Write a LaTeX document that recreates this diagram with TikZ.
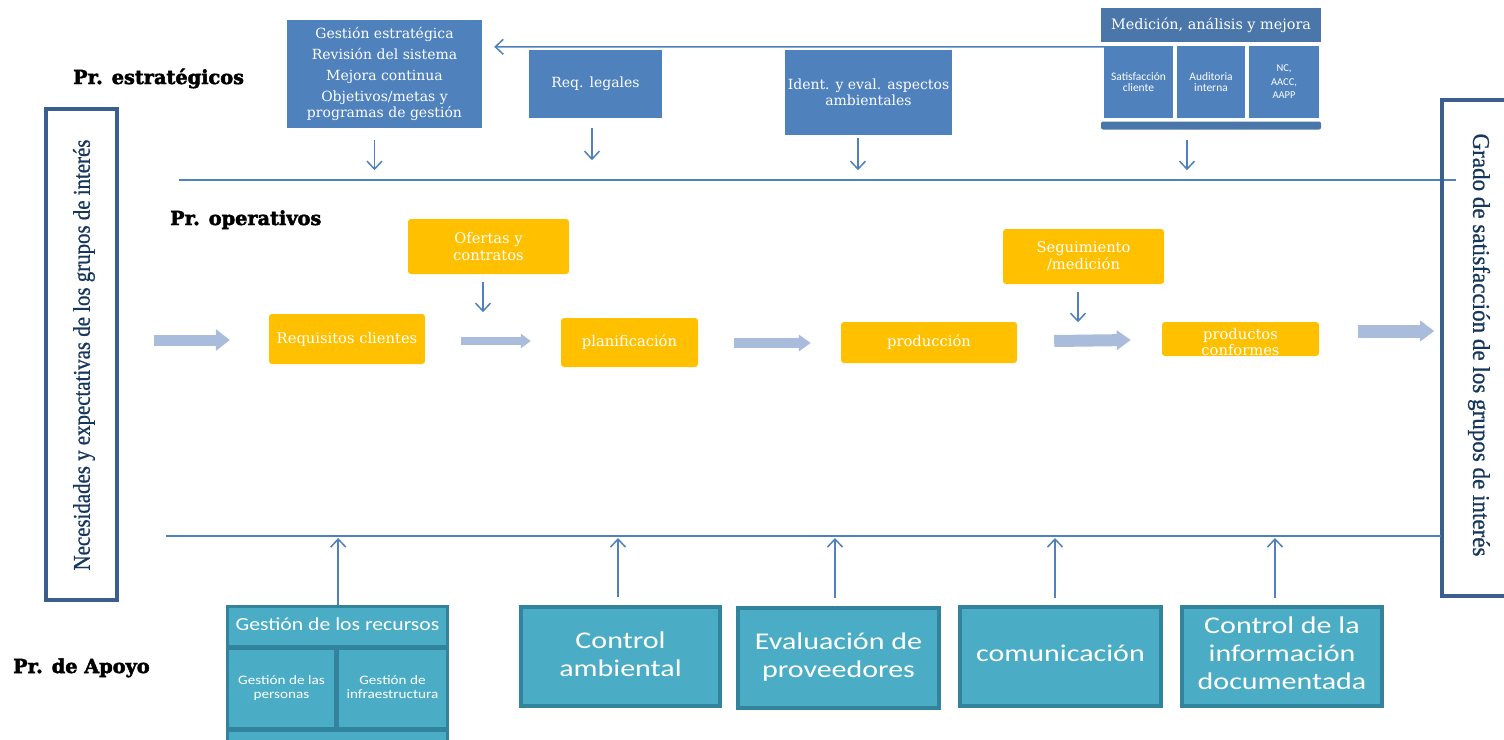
\documentclass[tikz,border=0pt]{standalone}
\usepackage{fontspec}
\usepackage{graphicx}
\usetikzlibrary{arrows.meta,calc}
\newfontfamily\cam{DejaVu Serif}
\newfontfamily\heavy{DejaVu Serif Bold}[FakeBold=2.5]
\newfontfamily\calib{Carlito}
\newfontfamily\lser{Liberation Serif}[FakeBold=0.8]
\newcommand{\vsq}[2]{\scalebox{1}[#1]{\begin{tabular}{@{}c@{}}#2\end{tabular}}}
\definecolor{boxblue}{HTML}{4F81BD}
\definecolor{hdrblue}{HTML}{4A76AA}
\definecolor{linblue}{HTML}{4F81BD}
\definecolor{frameblue}{HTML}{3A5F8D}
\definecolor{navy}{HTML}{17365D}
\definecolor{orng}{HTML}{FFC000}
\definecolor{lightarr}{HTML}{A9BCDC}
\definecolor{tealfill}{HTML}{4BACC6}
\definecolor{tealdark}{HTML}{31849B}
\tikzset{
  bbox/.style={fill=boxblue, text=white, inner sep=0pt, align=center, font=\cam\fontsize{14}{16}\selectfont},
  subbox/.style={fill=boxblue, text=white, inner sep=0pt, align=center, font=\calib\fontsize{11.5}{11}\selectfont},
  obox/.style={fill=orng, rounded corners=3pt, text=white, inner sep=0pt, align=center, font=\cam\fontsize{14.7}{17}\selectfont},
  tbox/.style={fill=tealfill, draw=tealdark, line width=4pt, text=white, inner sep=0pt, align=center, font=\calib\fontsize{30}{35}\selectfont},
  tin/.style={fill=tealfill, text=white, inner sep=0pt, align=center},
  thinarr/.style={draw=linblue, line width=1.5pt, -{Straight Barb[length=8pt,width=15pt]}},
  bigarr/.style={draw=lightarr},
  seclabel/.style={font=\heavy\fontsize{19.3}{21}\selectfont, anchor=base west, inner sep=0pt},
  frame/.style={draw=frameblue, line width=4pt},
}
\begin{document}
\begin{tikzpicture}[x=1pt,y=-1pt]
\useasboundingbox (0,0) rectangle (1504,739);
\clip (0,0) rectangle (1504,739);
\fill[white] (0,0) rectangle (1504,739);

% section labels
\node[seclabel] (lstrat) at (73,84) {Pr. estratégicos};
\node[seclabel] (lop) at (170,225) {Pr. operativos};
\node[seclabel] (lap) at (13,673) {Pr. de Apoyo};

% feedback line start
\coordinate (fbS) at (1115,47);

% strategic boxes
\node[bbox, minimum width=195, minimum height=108] (gest) at (384.5,74)
  {Gestión estratégica\\[5pt]Revisión del sistema\\[5pt]Mejora continua\\[5pt]Objetivos/metas y\\programas de gestión};
\draw[thinarr] (fbS) -- ($(gest.north east)+(12,27)$);
\node[bbox, minimum width=133, minimum height=68] (req) at (595.5,84) {Req. legales};
\node[bbox, minimum width=167, minimum height=85] (ident) at (868.5,92.5) {Ident. y eval. aspectos\\ambientales};

% Medicion composite
\node[fill=hdrblue, text=white, inner sep=0pt, minimum width=220, minimum height=34, font=\cam\fontsize{14.4}{16}\selectfont] (med) at (1211,25) {Medición, análisis y mejora};
\node[subbox, minimum width=69, minimum height=72] (sat) at (1138.5,82) {Satisfacción\\cliente};
\node[subbox, minimum width=68, minimum height=72, font=\calib\fontsize{11.5}{11}\selectfont] (aud) at (1211,82) {Auditoria\\interna};
\node[subbox, minimum width=70, minimum height=72, font=\calib\fontsize{10.5}{13.5}\selectfont] (nc) at (1284,82) {NC,\\AACC,\\AAPP};
\node[fill=hdrblue, rounded corners=2pt, inner sep=0pt, minimum width=220, minimum height=8] (bar) at (1211,125.5) {};

% arrows down to strategic line
\draw[thinarr] ($(gest.south)+(-10,12)$) -- ($(gest.south)+(-10,42)$);
\draw[thinarr] ($(req.south)+(-3.5,10)$) -- ($(req.south)+(-3.5,42)$);
\draw[thinarr] ($(ident.south)+(-10.5,3)$) -- ($(ident.south)+(-10.5,35)$);
\draw[thinarr] ($(bar.south)+(-24,10.5)$) -- ($(bar.south)+(-24,40.5)$);

% upper separator line
\coordinate (tlA) at (179,180);
\coordinate (tlB) at (1456,180);
\draw[linblue, line width=1.5pt] (tlA) -- (tlB);

% side frames
\node[frame, minimum width=71, minimum height=491, inner sep=0pt] (lbox) at (81.5,354.5) {};
\node[rotate=90, text=navy, inner sep=0pt] (ltext) at (84,355)
  {\scalebox{0.87}[1]{\lser\fontsize{24}{24}\selectfont Necesidades y expectativas de los grupos de interés}};
\coordinate (rA) at (1510,100);
\coordinate (rB) at (1442,100);
\coordinate (rC) at (1442,596);
\coordinate (rD) at (1510,596);
\draw[frame] (rA) -- (rB) -- (rC) -- (rD);
\node[rotate=-90, text=navy, inner sep=0pt] (rtext) at (1479,345)
  {\scalebox{0.96}[1]{\lser\fontsize{24}{24}\selectfont Grado de satisfacción de los grupos de interés}};

% operative boxes
\node[obox, minimum width=161, minimum height=55] (ofer) at (488.5,246.5) {Ofertas y\\contratos};
\node[obox, minimum width=156, minimum height=50] (reqc) at (347,339) {Requisitos clientes};
\node[obox, minimum width=137, minimum height=49] (plan) at (629.5,342.5) {planificación};
\node[obox, minimum width=176, minimum height=41] (prod) at (929,342.5) {producción};
\node[obox, minimum width=161, minimum height=55] (segu) at (1083.5,256.5) {Seguimiento\\/medición};
\node[obox, minimum width=157, minimum height=34] (pconf) at (1240.5,339) {};
\begin{scope}
  \clip (pconf.south west) rectangle (pconf.north east);
  \node[text=white, inner sep=0pt, align=center, font=\cam\fontsize{14.7}{14}\selectfont] (pconft) at (1240.5,342) {productos\\conformes};
\end{scope}

\draw[thinarr] ($(ofer.south)+(-5.5,8)$) -- ($(ofer.south)+(-5.5,38)$);
\draw[thinarr] ($(segu.south)+(-5.5,8)$) -- ($(segu.south)+(-5.5,38)$);

% big light arrows
\draw[bigarr, line width=11pt, -{Triangle[length=14pt,width=21pt]}] ($(reqc.west)+(-115,1)$) -- ($(reqc.west)+(-39,1)$);
\draw[bigarr, line width=8pt, -{Triangle[length=10pt,width=14pt]}] ($(reqc.east)+(36,2)$) -- ($(plan.west)+(-30,-1.5)$);
\draw[bigarr, line width=10pt, -{Triangle[length=12pt,width=16pt]}] ($(plan.east)+(36,0.5)$) -- ($(prod.west)+(-30,0.5)$);
\draw[bigarr, line width=12pt, -{Triangle[length=14pt,width=19pt]}] ($(prod.east)+(37,-1.5)$) -- ($(pconf.west)+(-31,1)$);
\draw[bigarr, line width=13pt, -{Triangle[length=14pt,width=20pt]}] ($(pconf.east)+(39,-8)$) -- ($(pconf.east)+(115,-8)$);

% lower separator line
\coordinate (blA) at (166,536);
\coordinate (blB) at (1441,536);
\draw[linblue, line width=2.5pt] (blA) -- (blB);

% support boxes
\node[fill=tealdark, inner sep=0pt, minimum width=223, minimum height=140, anchor=north west] (rec) at (226,605) {};
\node[tin, minimum width=217, minimum height=37, font=\calib\fontsize{21.7}{24}\selectfont] (rech) at (337.5,626.5) {\vsq{0.85}{Gestión de los recursos}};
\node[tin, minimum width=105, minimum height=77, font=\calib\fontsize{15.2}{16.5}\selectfont] (recp) at (281.5,688.5) {\vsq{0.85}{Gestión de las\\personas}};
\node[tin, minimum width=107, minimum height=77, font=\calib\fontsize{15.2}{16.5}\selectfont] (reci) at (392.5,688.5) {\vsq{0.85}{Gestión de\\infraestructura}};
\node[tin, minimum width=217, minimum height=15, anchor=north west] (recb) at (229,732) {};

\node[tbox, minimum width=199, minimum height=99] (ctrl) at (620.5,656.5) {\vsq{0.8}{Control\\ambiental}};
\node[tbox, minimum width=201, minimum height=100] (eval) at (838.5,658) {\vsq{0.8}{Evaluación de\\proveedores}};
\node[tbox, minimum width=201, minimum height=99] (comu) at (1060.5,656) {\vsq{0.8}{comunicación}};
\node[tbox, minimum width=200, minimum height=99] (cinf) at (1282,656) {\vsq{0.8}{Control de la\\información\\documentada}};

\draw[thinarr] ($(rec.north)+(0.5,0)$) -- ($(rec.north)+(0.5,-67)$);
\draw[thinarr] ($(ctrl.north)+(-2.5,-8)$) -- ($(ctrl.north)+(-2.5,-67)$);
\draw[thinarr] ($(eval.north)+(-3.5,-8)$) -- ($(eval.north)+(-3.5,-68)$);
\draw[thinarr] ($(comu.north)+(-5.5,-6.5)$) -- ($(comu.north)+(-5.5,-66.5)$);
\draw[thinarr] ($(cinf.north)+(-7,-6.5)$) -- ($(cinf.north)+(-7,-66.5)$);
\end{tikzpicture}
\end{document}
